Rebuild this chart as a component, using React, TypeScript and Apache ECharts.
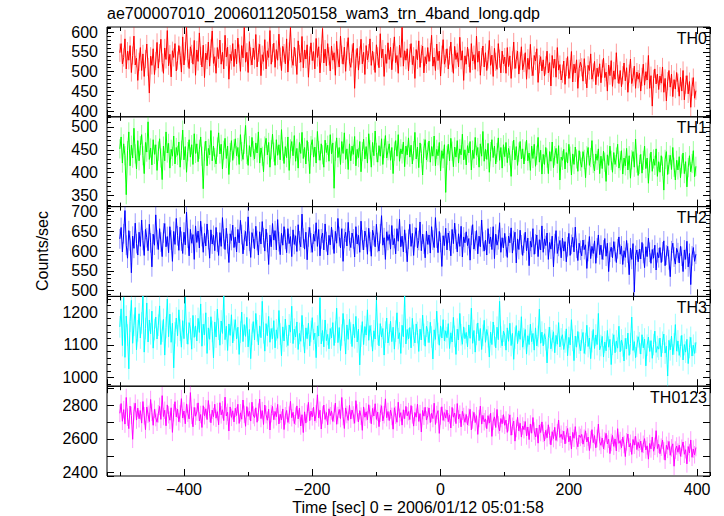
import React, { useEffect, useRef } from 'react';
import * as echarts from 'echarts';

const TITLE = 'ae700007010_20060112050158_wam3_trn_4band_long.qdp';
const X_NAME = 'Time [sec] 0 = 2006/01/12 05:01:58';
const Y_NAME = 'Counts/sec';

const TIME_START = -500;
const TIME_BIN = 2;
const X_MIN = -520;
const X_MAX = 420;
const X_MAJOR = 200;
const X_MINOR = 100;

const BAND_NAMES = ['TH0', 'TH1', 'TH2', 'TH3', 'TH0123'];
// typical 1-sigma error bar per band (counts/sec)
const BAND_ERRORS = [23, 21, 25, 33, 52];

const TH0 = [
  548, 571, 520, 536, 583, 507, 552, 529, 566, 498, 541, 590, 517, 534, 478,
  525, 561, 503, 545, 488, 532, 570, 512, 446, 539, 516, 558, 493, 527, 574,
  509, 547, 582, 523, 496, 560, 531, 604, 515, 544, 487, 553, 536, 571, 502,
  528, 566, 541, 499, 588, 517, 552, 612, 534, 508, 563, 545, 519, 579, 491,
  555, 526, 598, 540, 512, 567, 485, 547, 530, 575, 514, 559, 603, 521, 538,
  496, 561, 533, 580, 519, 549, 507, 592, 537, 562, 481, 544, 528, 571, 513,
  557, 520, 585, 546, 501, 566, 535, 612, 524, 549, 498, 576, 539, 517, 560,
  531, 594, 512, 548, 569, 490, 543, 526, 581, 507, 553, 536, 604, 519, 547,
  572, 511, 556, 529, 595, 538, 503, 564, 547, 520, 583, 499, 551, 612, 533,
  516, 562, 537, 493, 578, 545, 524, 589, 510, 555, 532, 568, 486, 541, 573,
  528, 551, 507, 584, 536, 563, 497, 546, 609, 522, 557, 515, 571, 539, 502,
  565, 529, 548, 491, 577, 534, 512, 590, 543, 519, 562, 501, 553, 586, 525,
  511, 546, 572, 458, 533, 559, 504, 541, 582, 520, 549, 493, 566, 530, 547,
  583, 516, 552, 527, 498, 568, 539, 510, 596, 535, 557, 488, 544, 521, 573,
  531, 562, 505, 549, 588, 523, 541, 496, 567, 536, 612, 514, 553, 529, 558,
  502, 547, 571, 518, 539, 483, 556, 530, 578, 511, 545, 565, 497, 538, 520,
  561, 526, 549, 592, 514, 537, 503, 570, 528, 552, 489, 543, 581, 519, 534,
  558, 507, 541, 575, 522, 496, 564, 531, 548, 512, 587, 529, 553, 478, 540,
  519, 562, 535, 498, 571, 527, 543, 506, 590, 524, 552, 491, 537, 565, 512,
  548, 503, 531, 579, 516, 542, 488, 559, 525, 506, 571, 533, 497, 552, 520,
  537, 496, 561, 513, 540, 483, 529, 575, 508, 531, 552, 494, 527, 563, 505,
  522, 548, 481, 534, 506, 569, 512, 490, 541, 527, 558, 473, 519, 538, 502,
  530, 489, 516, 552, 497, 523, 464, 541, 509, 532, 486, 561, 504, 518, 479,
  495, 527, 468, 512, 538, 483, 506, 551, 474, 519, 497, 530, 458, 508, 524,
  511, 476, 533, 492, 459, 516, 503, 545, 481, 498, 526, 467, 509, 488, 520,
  472, 508, 534, 485, 499, 451, 517, 490, 528, 463, 502, 481, 548, 494, 470,
  503, 462, 491, 522, 477, 510, 448, 495, 532, 470, 486, 514, 458, 499, 481,
  496, 451, 487, 519, 466, 500, 479, 541, 458, 490, 413, 482, 507, 469, 494,
  455, 489, 471, 512, 448, 483, 426, 476, 503, 461, 494, 437, 480, 456, 498,
  472, 438, 486, 451, 503, 429, 467, 490, 444, 475, 410, 462, 485, 433, 452,
];

const TH1 = [
  452, 478, 421, 463, 437, 352, 448, 489, 415, 460, 432, 497, 441, 408, 470,
  426, 459, 483, 437, 398, 466, 445, 511, 429, 454, 417, 472, 440, 461, 405,
  447, 474, 432, 385, 458, 426, 489, 443, 464, 410, 451, 436, 480, 419, 455,
  438, 467, 412, 449, 493, 428, 457, 401, 446, 472, 434, 461, 418, 485, 442,
  463, 424, 451, 478, 436, 365, 447, 469, 415, 453, 439, 492, 426, 458, 433,
  419, 456, 487, 441, 462, 408, 449, 475, 431, 458, 396, 444, 470, 427, 452,
  474, 437, 455, 418, 483, 446, 429, 462, 503, 440, 416, 459, 435, 477, 448,
  430, 465, 443, 489, 421, 454, 436, 402, 458, 475, 439, 466, 412, 450, 484,
  445, 416, 472, 438, 461, 428, 494, 447, 420, 457, 433, 478, 405, 452, 468,
  437, 481, 425, 453, 410, 466, 442, 488, 431, 455, 419, 470, 446, 398, 459,
  472, 434, 456, 421, 490, 448, 427, 463, 439, 412, 471, 444, 460, 425, 483,
  441, 465, 366, 447, 476, 433, 455, 418, 468, 442, 487, 429, 452, 407, 463,
  426, 458, 440, 479, 415, 451, 433, 468, 402, 446, 473, 430, 457, 421, 485,
  450, 412, 466, 437, 491, 444, 423, 459, 436, 474, 418, 453, 481, 432, 448,
  463, 427, 455, 398, 447, 470, 436, 483, 425, 452, 441, 467, 413, 458, 439,
  476, 434, 460, 419, 448, 488, 430, 456, 411, 465, 442, 395, 453, 472, 428,
  445, 469, 423, 457, 436, 480, 415, 451, 437, 466, 404, 448, 431, 461, 357,
  438, 462, 426, 475, 447, 413, 456, 434, 470, 421, 452, 439, 484, 428, 450,
  417, 459, 443, 468, 406, 449, 431, 477, 438, 455, 412, 463, 436, 490, 425,
  451, 429, 464, 401, 446, 472, 433, 458, 419, 444, 476, 427, 455, 410, 461,
  435, 466, 422, 453, 437, 392, 448, 471, 428, 457, 416, 445, 468, 430, 452,
  419, 447, 471, 426, 443, 405, 458, 431, 462, 414, 438, 477, 423, 449, 397,
  440, 418, 455, 432, 398, 446, 425, 467, 411, 437, 453, 420, 459, 384, 434,
  427, 451, 408, 444, 421, 462, 436, 395, 441, 418, 456, 430, 403, 448, 425,
  412, 446, 429, 389, 437, 455, 416, 433, 470, 420, 404, 441, 427, 452, 398,
  436, 409, 447, 423, 381, 439, 416, 458, 427, 401, 444, 418, 434, 462, 410,
  426, 448, 397, 432, 415, 453, 406, 437, 388, 428, 446, 412, 473, 421, 394,
  418, 440, 399, 427, 458, 409, 432, 377, 421, 445, 403, 430, 416, 452, 392,
  424, 401, 437, 414, 362, 429, 446, 396, 418, 438, 407, 455, 412, 384, 427,
  406, 435, 389, 419, 443, 398, 424, 369, 411, 437, 402, 420, 448, 391, 414,
];

const TH2 = [
  631, 660, 598, 644, 703, 615, 582, 652, 626, 545, 638, 607, 671, 619, 590,
  648, 612, 679, 627, 589, 655, 634, 601, 668, 621, 560, 643, 615, 692, 629,
  604, 657, 623, 586, 646, 670, 611, 637, 596, 662, 628, 574, 650, 617, 683,
  639, 602, 661, 625, 594, 648, 616, 699, 633, 588, 655, 620, 642, 579, 664,
  622, 651, 608, 676, 637, 597, 645, 613, 669, 629, 582, 654, 618, 640, 601,
  660, 623, 589, 647, 612, 685, 631, 604, 658, 619, 571, 644, 627, 666, 609,
  636, 598, 655, 621, 678, 642, 593, 628, 650, 613, 687, 625, 584, 647, 632,
  606, 663, 627, 590, 649, 618, 675, 634, 600, 656, 622, 566, 641, 611, 670,
  628, 652, 603, 680, 624, 591, 645, 615, 662, 630, 596, 657, 619, 637, 586,
  654, 617, 639, 599, 667, 626, 611, 694, 633, 605, 648, 578, 636, 660, 621,
  597, 643, 625, 672, 612, 655, 588, 631, 646, 603, 669, 624, 590, 640, 616,
  661, 629, 594, 650, 620, 683, 637, 608, 657, 574, 632, 648, 613, 673, 626,
  609, 646, 631, 585, 662, 618, 640, 597, 676, 628, 603, 651, 635, 592, 658,
  624, 587, 653, 639, 611, 668, 622, 600, 644, 690, 615, 634, 579, 649, 627,
  642, 605, 665, 616, 632, 593, 657, 625, 681, 611, 638, 598, 654, 620, 573,
  630, 668, 612, 645, 589, 636, 659, 608, 627, 674, 601, 643, 618, 583, 651,
  617, 641, 595, 662, 628, 609, 685, 633, 596, 650, 622, 561, 639, 614, 658,
  603, 646, 626, 588, 655, 619, 671, 630, 598, 644, 612, 663, 585, 636, 621,
  649, 614, 632, 577, 640, 667, 605, 626, 652, 593, 638, 611, 679, 624, 600,
  628, 590, 657, 619, 636, 604, 662, 581, 643, 615, 629, 672, 597, 634, 608,
  645, 612, 584, 638, 621, 659, 595, 627, 648, 570, 631, 604, 653, 616, 589,
  620, 648, 601, 633, 563, 625, 610, 657, 592, 618, 641, 586, 629, 603, 664,
  597, 631, 614, 646, 579, 622, 605, 638, 560, 619, 652, 594, 612, 627, 583,
  633, 600, 624, 573, 611, 645, 589, 617, 635, 598, 661, 607, 576, 620, 602,
  588, 628, 604, 616, 556, 599, 637, 581, 612, 594, 626, 569, 608, 641, 591,
  615, 579, 603, 632, 587, 620, 548, 597, 610, 583, 624, 599, 571, 606, 636,
  592, 613, 566, 601, 584, 627, 595, 540, 608, 579, 619, 496, 589, 603, 573,
  605, 580, 622, 594, 558, 611, 586, 633, 597, 569, 604, 582, 615, 552, 596,
  583, 609, 571, 598, 626, 563, 590, 612, 578, 535, 601, 620, 585, 567, 607,
  596, 570, 612, 587, 548, 603, 579, 625, 560, 594, 515, 588, 609, 574, 592,
];

const TH3 = [
  1155, 1210, 1098, 1245, 1062, 1188, 1130, 1027, 1172, 1236, 1105, 1160, 1214, 1085, 1143,
  1195, 1121, 1167, 1250, 1078, 1150, 1228, 1109, 1176, 1134, 1203, 1090, 1147, 1185, 1118,
  1160, 1219, 1101, 1142, 1178, 1069, 1153, 1240, 1125, 1194, 1108, 1166, 1030, 1137, 1182,
  1128, 1207, 1145, 1093, 1174, 1119, 1246, 1136, 1102, 1168, 1149, 1087, 1190, 1123, 1158,
  1112, 1181, 1138, 1225, 1096, 1163, 1131, 1198, 1074, 1152, 1117, 1186, 1141, 1060, 1170,
  1124, 1209, 1148, 1099, 1173, 1135, 1250, 1116, 1157, 1083, 1164, 1129, 1192, 1106, 1145,
  1177, 1118, 1154, 1071, 1139, 1200, 1110, 1162, 1126, 1184, 1094, 1147, 1058, 1132, 1171,
  1115, 1196, 1143, 1100, 1158, 1122, 1233, 1137, 1081, 1165, 1128, 1187, 1108, 1150, 1119,
  1174, 1091, 1146, 1120, 1205, 1133, 1067, 1155, 1112, 1179, 1126, 1098, 1161, 1139, 1218,
  1104, 1148, 1124, 1170, 1086, 1135, 1111, 1190, 1128, 1075, 1152, 1119, 1166, 1097, 1141,
  1183, 1116, 1136, 1061, 1158, 1127, 1244, 1103, 1144, 1094, 1176, 1113, 1132, 1088, 1150,
  1121, 1168, 1098, 1139, 1212, 1107, 1153, 1083, 1130, 1196, 1145, 1072, 1161, 1117, 1178,
  1136, 1095, 1163, 1122, 1187, 1109, 1148, 1039, 1127, 1171, 1101, 1156, 1130, 1207, 1114,
  1159, 1128, 1081, 1143, 1118, 1236, 1133, 1097, 1165, 1124, 1150, 1069, 1139, 1182, 1106,
  1131, 1172, 1110, 1154, 1087, 1142, 1198, 1119, 1137, 1074, 1160, 1125, 1249, 1103, 1147,
  1118, 1153, 1091, 1181, 1129, 1106, 1164, 1138, 1080, 1148, 1115, 1191, 1132, 1096, 1157,
  1140, 1107, 1169, 1124, 1057, 1146, 1117, 1203, 1135, 1099, 1158, 1121, 1177, 1112, 1143,
  1122, 1165, 1089, 1137, 1109, 1184, 1126, 1071, 1148, 1115, 1196, 1131, 1102, 1155, 1119,
  1138, 1094, 1161, 1120, 1212, 1105, 1144, 1078, 1132, 1167, 1113, 1150, 1086, 1129, 1175,
  1108, 1147, 1125, 1063, 1139, 1101, 1170, 1128, 1091, 1154, 1116, 1233, 1124, 1097, 1142,
  1130, 1084, 1152, 1111, 1166, 1098, 1135, 1056, 1121, 1159, 1104, 1143, 1117, 1186, 1093,
  1119, 1147, 1072, 1128, 1101, 1163, 1110, 1135, 1084, 1152, 1097, 1126, 1209, 1105, 1139,
  1097, 1134, 1116, 1045, 1122, 1154, 1088, 1113, 1140, 1076, 1129, 1102, 1168, 1094, 1118,
  1131, 1086, 1109, 1149, 1067, 1123, 1100, 1177, 1114, 1052, 1127, 1093, 1141, 1106, 1082,
  1115, 1138, 1074, 1104, 1160, 1095, 1121, 1058, 1110, 1147, 1089, 1130, 1101, 1196, 1085,
  1098, 1126, 1063, 1109, 1082, 1144, 1093, 1117, 1040, 1102, 1131, 1076, 1112, 1090, 1157,
  1079, 1115, 1097, 1051, 1120, 1088, 1136, 1068, 1104, 1185, 1083, 1110, 1061, 1096, 1125,
  1106, 1072, 1131, 1091, 1118, 1036, 1099, 1124, 1080, 1113, 1059, 1101, 1142, 1077, 1095,
  1087, 1121, 1064, 1108, 1133, 1075, 1096, 1005, 1114, 1085, 1127, 1070, 1103, 1162, 1081,
  1112, 1068, 1095, 1129, 1054, 1101, 1078, 1117, 1043, 1092, 1123, 1066, 1099, 1074, 1108,
];

const TH0123 = [
  2752, 2810, 2705, 2774, 2688, 2846, 2729, 2661, 2795, 2740, 2598, 2763, 2812, 2712, 2783,
  2720, 2768, 2694, 2822, 2737, 2655, 2789, 2746, 2703, 2834, 2758, 2681, 2776, 2727, 2699,
  2749, 2793, 2716, 2857, 2733, 2770, 2678, 2802, 2744, 2711, 2785, 2639, 2756, 2821, 2731,
  2777, 2702, 2748, 2839, 2724, 2766, 2690, 2808, 2753, 2719, 2875, 2740, 2672, 2787, 2735,
  2760, 2814, 2707, 2745, 2668, 2797, 2738, 2779, 2715, 2828, 2751, 2696, 2771, 2732, 2806,
  2723, 2762, 2684, 2815, 2743, 2773, 2709, 2848, 2736, 2758, 2647, 2790, 2728, 2767, 2701,
  2782, 2739, 2806, 2692, 2755, 2717, 2831, 2746, 2675, 2792, 2734, 2764, 2706, 2818, 2742,
  2727, 2785, 2699, 2759, 2837, 2721, 2768, 2686, 2801, 2744, 2711, 2776, 2653, 2750, 2793,
  2714, 2763, 2732, 2805, 2689, 2747, 2712, 2778, 2656, 2737, 2769, 2698, 2741, 2823, 2726,
  2758, 2691, 2735, 2796, 2719, 2783, 2677, 2744, 2638, 2761, 2694, 2752, 2817, 2708, 2765,
  2731, 2789, 2706, 2748, 2862, 2725, 2770, 2659, 2742, 2801, 2716, 2757, 2684, 2779, 2738,
  2766, 2704, 2751, 2813, 2687, 2739, 2775, 2721, 2846, 2733, 2662, 2784, 2745, 2710, 2799,
  2718, 2772, 2742, 2693, 2827, 2754, 2701, 2768, 2735, 2651, 2790, 2729, 2761, 2714, 2803,
  2747, 2690, 2781, 2736, 2809, 2716, 2759, 2673, 2752, 2797, 2707, 2744, 2838, 2726, 2763,
  2709, 2771, 2734, 2658, 2785, 2741, 2699, 2818, 2728, 2756, 2682, 2773, 2720, 2793, 2737,
  2762, 2715, 2798, 2743, 2676, 2757, 2729, 2806, 2704, 2750, 2641, 2769, 2735, 2788, 2712,
  2738, 2784, 2697, 2752, 2721, 2812, 2686, 2745, 2768, 2633, 2736, 2791, 2710, 2756, 2724,
  2771, 2702, 2743, 2665, 2787, 2729, 2754, 2691, 2810, 2718, 2747, 2672, 2764, 2733, 2699,
  2745, 2683, 2729, 2776, 2654, 2712, 2758, 2697, 2738, 2627, 2721, 2795, 2688, 2740, 2702,
  2719, 2661, 2738, 2694, 2752, 2615, 2706, 2731, 2668, 2775, 2683, 2647, 2721, 2690, 2744,
  2681, 2712, 2639, 2697, 2743, 2622, 2675, 2706, 2587, 2662, 2728, 2648, 2693, 2611, 2677,
  2655, 2703, 2618, 2671, 2596, 2689, 2634, 2727, 2647, 2612, 2664, 2575, 2683, 2638, 2701,
  2633, 2588, 2651, 2607, 2684, 2620, 2565, 2643, 2602, 2669, 2591, 2637, 2712, 2609, 2628,
  2598, 2646, 2571, 2625, 2662, 2583, 2617, 2540, 2639, 2604, 2673, 2590, 2553, 2622, 2609,
  2627, 2569, 2604, 2648, 2582, 2611, 2531, 2596, 2655, 2578, 2620, 2547, 2603, 2688, 2584,
  2562, 2605, 2541, 2587, 2633, 2570, 2598, 2513, 2579, 2621, 2556, 2600, 2529, 2661, 2574,
  2590, 2548, 2611, 2567, 2495, 2583, 2629, 2552, 2574, 2508, 2597, 2563, 2616, 2537, 2580,
  2546, 2587, 2521, 2568, 2602, 2535, 2559, 2480, 2573, 2541, 2611, 2527, 2556, 2649, 2543,
  2569, 2512, 2551, 2593, 2529, 2474, 2562, 2538, 2585, 2503, 2547, 2571, 2438, 2534, 2558,
  2521, 2563, 2497, 2545, 2582, 2509, 2536, 2452, 2555, 2517, 2594, 2491, 2540, 2506, 2549,
];

const BAND_VALUES = [TH0, TH1, TH2, TH3, TH0123];
const Y_MIN = [386, 326, 485, 974, 2380];
const Y_MAX = [613, 522, 713, 1248, 2913];
const Y_MAJOR = [50, 50, 50, 100, 200];
const Y_MINOR = [10, 10, 10, 20, 100];
const COLORS = ['#ff0000', '#00ff00', '#0000ff', '#00ffff', '#ff00ff'];

const FONT = '"Liberation Sans", Arial, Helvetica, sans-serif';
const GRID_LEFT = 107;
const GRID_RIGHT_X = 710;
const GRID_TOP = 27;
const PANEL_H = 89.8;

function minusFmt(v: number) {
  return v < 0 ? '\u2212' + Math.abs(v) : String(v);
}

function makeAxis(
  gridIndex: number,
  position: string,
  min: number,
  max: number,
  step: number,
  tickLen: number,
  showLabels: boolean,
  margin: number
) {
  return {
    type: 'value',
    gridIndex,
    position,
    min,
    max,
    minInterval: step,
    maxInterval: step,
    splitNumber: 5,
    axisLine: { show: false, onZero: false },
    splitLine: { show: false },
    axisTick: { show: true, inside: true, length: tickLen, lineStyle: { color: '#000', width: 1 } },
    minorTick: { show: false },
    axisLabel: {
      show: showLabels,
      showMinLabel: false,
      showMaxLabel: false,
      color: '#000',
      fontSize: 16,
      fontFamily: FONT,
      margin,
      formatter: minusFmt,
    },
  };
}

export default function App() {
  const ref = useRef<HTMLDivElement>(null);
  useEffect(() => {
    if (!ref.current) return;
    const chart = echarts.init(ref.current, undefined, { renderer: 'svg' });
    const grids: any[] = [];
    const xAxes: any[] = [];
    const yAxes: any[] = [];
    const series: any[] = [];
    const graphics: any[] = [];
    BAND_VALUES.forEach((vals, i) => {
      const top = GRID_TOP + i * PANEL_H;
      grids.push({
        left: GRID_LEFT,
        width: GRID_RIGHT_X - GRID_LEFT,
        top,
        height: PANEL_H,
        show: true,
        borderColor: '#000',
        borderWidth: 1,
        backgroundColor: 'transparent',
      });
      const last = i === BAND_VALUES.length - 1;
      xAxes.push(makeAxis(i, 'bottom', X_MIN, X_MAX, X_MAJOR, 7, last, 5));
      xAxes.push(makeAxis(i, 'bottom', X_MIN, X_MAX, X_MINOR, 4, false, 5));
      xAxes.push(makeAxis(i, 'top', X_MIN, X_MAX, X_MAJOR, 7, false, 5));
      xAxes.push(makeAxis(i, 'top', X_MIN, X_MAX, X_MINOR, 4, false, 5));
      const majorLen = 7;
      const minorLen = i === 4 ? 7 : 4;
      yAxes.push(makeAxis(i, 'left', Y_MIN[i], Y_MAX[i], Y_MAJOR[i], majorLen, true, 9));
      yAxes.push(makeAxis(i, 'left', Y_MIN[i], Y_MAX[i], Y_MINOR[i], minorLen, false, 9));
      yAxes.push(makeAxis(i, 'right', Y_MIN[i], Y_MAX[i], Y_MAJOR[i], majorLen, false, 9));
      yAxes.push(makeAxis(i, 'right', Y_MIN[i], Y_MAX[i], Y_MINOR[i], minorLen, false, 9));
      const err = BAND_ERRORS[i];
      const color = COLORS[i];
      series.push({
        type: 'custom',
        name: BAND_NAMES[i] + ' error',
        xAxisIndex: i * 4,
        yAxisIndex: i * 4,
        data: vals.map((v, k) => [TIME_START + k * TIME_BIN, v - err, v + err]),
        encode: { x: 0, y: [1, 2] },
        clip: true,
        silent: true,
        z: 1,
        renderItem: (params: any, api: any) => {
          const p1 = api.coord([api.value(0), api.value(1)]);
          const p2 = api.coord([api.value(0), api.value(2)]);
          return {
            type: 'line',
            shape: { x1: p1[0], y1: p1[1], x2: p2[0], y2: p2[1] },
            style: { stroke: color, lineWidth: 1, opacity: 0.4 },
          };
        },
      });
      series.push({
        type: 'line',
        name: BAND_NAMES[i],
        xAxisIndex: i * 4,
        yAxisIndex: i * 4,
        data: vals.map((v, k) => [TIME_START + k * TIME_BIN, v]),
        symbol: 'none',
        showSymbol: false,
        clip: true,
        silent: true,
        lineStyle: { color, width: 1 },
        itemStyle: { color },
        z: 2,
      });
      graphics.push({
        type: 'text',
        right: 724 - 707,
        top: top + 3,
        style: { text: BAND_NAMES[i], fontSize: 16, fontFamily: FONT, fill: '#000' },
        z: 10,
      });
    });
    graphics.push({
      type: 'text',
      left: GRID_LEFT,
      top: 5,
      style: { text: TITLE, fontSize: 16, fontFamily: FONT, fill: '#000' },
    });
    graphics.push({
      type: 'text',
      x: 42,
      y: 251,
      rotation: Math.PI / 2,
      style: {
        text: Y_NAME,
        fontSize: 16,
        fontFamily: FONT,
        fill: '#000',
        textAlign: 'center',
        textVerticalAlign: 'middle',
      },
    });
    graphics.push({
      type: 'text',
      x: 418,
      y: 507,
      style: {
        text: X_NAME,
        fontSize: 16,
        fontFamily: FONT,
        fill: '#000',
        textAlign: 'center',
        textVerticalAlign: 'middle',
      },
    });
    chart.setOption({
      animation: false,
      backgroundColor: '#fff',
      grid: grids,
      xAxis: xAxes,
      yAxis: yAxes,
      series,
      graphic: graphics,
    });
    return () => chart.dispose();
  }, []);
  return (
    <div
      ref={ref}
      style={{ position: 'fixed', left: 0, top: 0, width: 724, height: 516 }}
    />
  );
}
